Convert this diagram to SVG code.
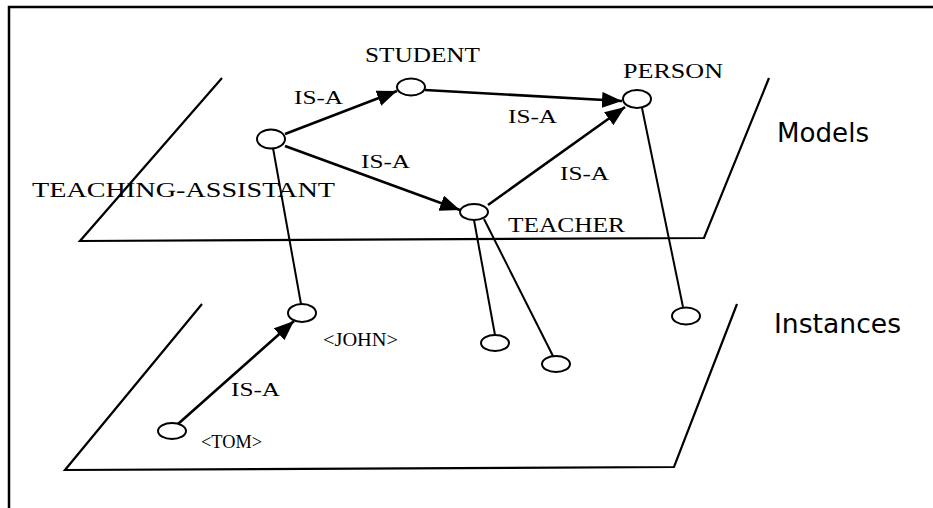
<svg xmlns="http://www.w3.org/2000/svg" width="933" height="508" viewBox="0 0 933 508">
<style>
.plane{fill:none;stroke:#000;stroke-width:2.2}
.node{fill:#fff;stroke:#000;stroke-width:2}
.arrow{fill:none;stroke:#000;stroke-width:2.6}
.link{fill:none;stroke:#000;stroke-width:2}
.big{font-family:"Liberation Serif","Times New Roman",serif;font-size:21px;fill:#000}
.small{font-family:"Liberation Serif","Times New Roman",serif;font-size:18px;fill:#000}
.side{font-family:"DejaVu Sans",Verdana,sans-serif;font-size:26px;fill:#000}
</style>
<defs>
<marker id="ah" markerUnits="userSpaceOnUse" markerWidth="20" markerHeight="16" refX="20" refY="8" orient="auto">
<path d="M0,0 L20,8 L0,16 z" fill="#000"/>
</marker>
</defs>
<rect width="933" height="508" fill="#fff"/>
<path d="M9,508 V7 H933" fill="none" stroke="#000" stroke-width="2.5"/>
<g id="planes">
<path class="plane" d="M222,78 L80,241 L704,238 L769,78"/>
<path class="plane" d="M202,304 L65,470 L674,467 L737,304"/>
</g>
<g id="connectors">
<line class="arrow" x1="285" y1="134" x2="397" y2="91" marker-end="url(#ah)"/>
<line class="arrow" x1="425" y1="90" x2="622" y2="101" marker-end="url(#ah)"/>
<line class="arrow" x1="285" y1="146" x2="460" y2="210" marker-end="url(#ah)"/>
<line class="arrow" x1="488" y1="205" x2="625" y2="107" marker-end="url(#ah)"/>
<line class="arrow" x1="178" y1="424" x2="294" y2="321" marker-end="url(#ah)"/>
<line class="link" x1="273" y1="148" x2="301" y2="304"/>
<line class="link" x1="474" y1="220" x2="495" y2="335"/>
<line class="link" x1="484" y1="219" x2="553" y2="356"/>
<line class="link" x1="642" y1="108" x2="683" y2="307"/>
</g>
<g id="teaching-assistant">
<ellipse class="node" cx="271" cy="139" rx="14" ry="9.5"/>
<text class="big" x="32" y="197" textLength="303" lengthAdjust="spacingAndGlyphs">TEACHING-ASSISTANT</text>
</g>
<g id="student">
<ellipse class="node" cx="411" cy="87" rx="14" ry="8.5"/>
<text class="big" x="365" y="62" textLength="115" lengthAdjust="spacingAndGlyphs">STUDENT</text>
</g>
<g id="person">
<ellipse class="node" cx="637" cy="99" rx="14" ry="9"/>
<text class="big" x="623" y="78" textLength="100" lengthAdjust="spacingAndGlyphs">PERSON</text>
</g>
<g id="teacher">
<ellipse class="node" cx="474" cy="212" rx="14" ry="8"/>
<text class="big" x="508" y="232" textLength="117" lengthAdjust="spacingAndGlyphs">TEACHER</text>
</g>
<g id="john">
<ellipse class="node" cx="302" cy="313" rx="14" ry="9"/>
<text class="small" x="323" y="346" textLength="75" lengthAdjust="spacingAndGlyphs">&lt;JOHN&gt;</text>
</g>
<g id="tom">
<ellipse class="node" cx="172" cy="431" rx="14" ry="8"/>
<text class="small" x="201" y="448" textLength="61" lengthAdjust="spacingAndGlyphs">&lt;TOM&gt;</text>
</g>
<g id="teacher-instance-1">
<ellipse class="node" cx="495" cy="343" rx="14" ry="8"/>
</g>
<g id="teacher-instance-2">
<ellipse class="node" cx="556" cy="364" rx="14" ry="8"/>
</g>
<g id="person-instance">
<ellipse class="node" cx="686" cy="316" rx="14" ry="8.5"/>
</g>
<g id="labels">
<text class="small" x="294" y="104" textLength="49" lengthAdjust="spacingAndGlyphs">IS-A</text>
<text class="small" x="508" y="123" textLength="49" lengthAdjust="spacingAndGlyphs">IS-A</text>
<text class="small" x="361" y="168" textLength="49" lengthAdjust="spacingAndGlyphs">IS-A</text>
<text class="small" x="560" y="180" textLength="49" lengthAdjust="spacingAndGlyphs">IS-A</text>
<text class="small" x="231" y="396" textLength="49" lengthAdjust="spacingAndGlyphs">IS-A</text>
<text class="side" x="777" y="142" textLength="92" lengthAdjust="spacingAndGlyphs">Models</text>
<text class="side" x="774" y="333" textLength="127" lengthAdjust="spacingAndGlyphs">Instances</text>
</g>
</svg>
